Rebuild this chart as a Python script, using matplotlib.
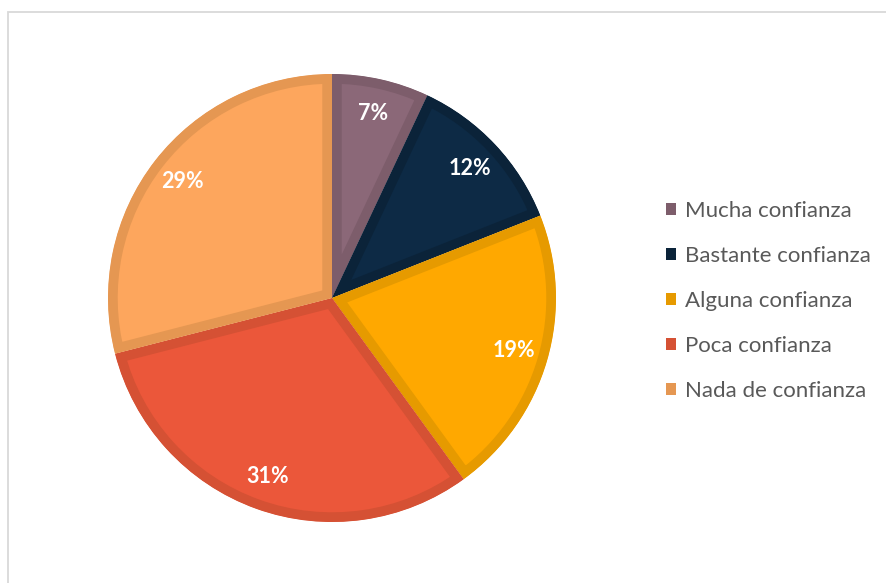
import matplotlib
matplotlib.use("Agg")
import matplotlib.pyplot as plt
from matplotlib.patches import Patch, Rectangle

categories = ["Mucha confianza", "Bastante confianza", "Alguna confianza",
              "Poca confianza", "Nada de confianza"]
values = [7, 12, 21, 31, 29]
pct_labels = ["7%", "12%", "19%", "31%", "29%"]
face_colors = ["#8B6878", "#0D2A45", "#FFA800", "#EB573A", "#FDA65D"]
edge_colors = ["#7D5D6B", "#0B2339", "#E69A00", "#D55134", "#E59752"]

W, H = 886, 583
fig = plt.figure(figsize=(W / 100, H / 100), dpi=100)
fig.patch.set_facecolor("white")

# outer chart frame
fig.patches.append(Rectangle((8 / W, -0.05), 1.2, (H - 12) / H + 0.05,
                             transform=fig.transFigure, fill=False,
                             edgecolor="#D9D9D9", linewidth=1.3))

cx, cy, r = 332, 298, 224
ax = fig.add_axes([(cx - r) / W, (H - cy - r) / H, 2 * r / W, 2 * r / H])

lab_iter = iter(pct_labels)
wedges, texts, autotexts = ax.pie(
    values, colors=face_colors, startangle=90, counterclock=False,
    radius=1.0, autopct=lambda p: next(lab_iter), pctdistance=0.845,
    textprops=dict(color="white", fontsize=15.5, fontweight="bold",
                   family=["Lato", "DejaVu Sans"]))
for w, ec in zip(wedges, edge_colors):
    w.set_edgecolor(ec)
    w.set_linewidth(14)
    w.set_clip_path(w)
    w.set_clip_on(True)
ax.set_xlim(-1, 1)
ax.set_ylim(-1, 1)
ax.set_aspect("equal")
ax.axis("off")

handles = [Patch(facecolor=c, edgecolor="none") for c in edge_colors]
fig.legend(handles, categories, loc="upper left",
           bbox_to_anchor=(666 / W, 1 - 201 / H), frameon=False,
           borderpad=0, borderaxespad=0,
           handlelength=0.45, handleheight=0.45, handletextpad=0.42,
           labelspacing=1.12,
           prop=dict(family=["Lato", "DejaVu Sans"], size=16),
           labelcolor="#595959")

fig.savefig("out.png", dpi=100, facecolor="white")
